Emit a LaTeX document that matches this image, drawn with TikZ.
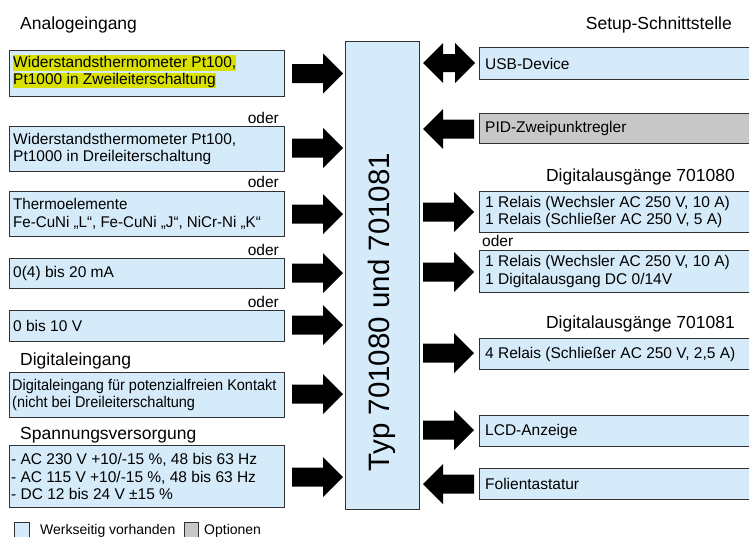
\documentclass[tikz,border=0pt]{standalone}
\usepackage{fontspec}
\usepackage{graphicx}
\setmainfont{Liberation Sans}
\definecolor{lblue}{RGB}{214,235,250}
\definecolor{lgray}{RGB}{200,200,200}
\definecolor{hl}{RGB}{217,224,0}
\definecolor{bord}{RGB}{50,50,50}
\tikzset{
  box/.style={draw=bord, line width=1.2pt, fill=lblue, rectangle, inner sep=0pt},
  optbox/.style={box, fill=lgray},
  txt/.style={font=\fontsize{15.5}{17.5}\selectfont, align=left, inner sep=0pt},
  head/.style={font=\fontsize{17.5}{20}\selectfont, inner sep=0pt},
  small/.style={font=\fontsize{14}{16}\selectfont, inner sep=0pt},
  hltxt/.style={font=\fontsize{15.5}{17.5}\selectfont, fill=hl, inner xsep=0pt, inner ysep=0.3pt, text height=11.6pt, text depth=3.6pt},
  blockarrow/.style={fill=black, draw=none},
}
% right-pointing block arrow: #1 = x start, #2 = y centre
\newcommand\rarrow[2]{\fill[blockarrow] (#1,#2-9.5) -- ++(31,0) -- ++(0,-10.5) -- ++(20,20) -- ++(-20,20) -- ++(0,-10.5) -- ++(-31,0) -- cycle;}
% left-pointing block arrow: #1 = x of tip, #2 = y centre
\newcommand\larrow[2]{\fill[blockarrow] (#1,#2) -- ++(20,-20) -- ++(0,10.5) -- ++(31,0) -- ++(0,19) -- ++(-31,0) -- ++(0,10.5) -- cycle;}
% double block arrow: #1 = x of left tip, #2 = y centre
\newcommand\darrow[2]{\fill[blockarrow] (#1,#2) -- ++(20,-20) -- ++(0,11) -- ++(12,0) -- ++(0,-11) -- ++(20,20) -- ++(-20,20) -- ++(0,-11) -- ++(-12,0) -- ++(0,11) -- cycle;}
\begin{document}
\begin{tikzpicture}[x=1pt,y=-1pt]
\useasboundingbox (0,0) rectangle (749,536);
% headings
\node[head, anchor=base west] (hana) at (20,29) {Analogeingang};
\node[head, anchor=base west] (hdig) at (20,365) {Digitaleingang};
\node[head, anchor=base west] (hspa) at (20,439) {Spannungsversorgung};
\node[head, anchor=base east] (hset) at (732,29) {Setup-Schnittstelle};
\node[head, anchor=base east] (hd80) at (735,181) {Digitalausgänge 701080};
\node[head, anchor=base east] (hd81) at (735,328) {Digitalausgänge 701081};
% central box
\node[box, anchor=north west, minimum width=74pt, minimum height=468pt] (main) at (345,41) {};
\node[rotate=90, font=\fontsize{29.5}{31}\selectfont, inner sep=0pt] (maint) at (382,312) {Typ 701080 und 701081};
% left boxes
\node[box, anchor=north west, minimum width=275pt, minimum height=46pt] (b1) at (9,50) {};
\node[hltxt, anchor=base west] (b1a) at (13,67) {Widerstandsthermometer Pt100,};
\node[hltxt, anchor=base west] (b1b) at (13,84.5) {Pt1000 in Zweileiterschaltung};
\node[txt, anchor=base east] (o1) at (279,123) {oder};
\node[box, anchor=north west, minimum width=275pt, minimum height=45pt] (b2) at (9,126) {};
\node[txt, anchor=west] (t2) at ([xshift=4pt]b2.west) {Widerstandsthermometer Pt100,\\Pt1000 in Dreileiterschaltung};
\node[txt, anchor=base east] (o2) at (279,187) {oder};
\node[box, anchor=north west, minimum width=275pt, minimum height=45pt] (b3) at (9,191) {};
\node[txt, anchor=west] (t3) at ([xshift=4pt]b3.west) {\scalebox{0.975}[1]{\vbox{\hbox{Thermoelemente}\hbox{Fe-CuNi „L“, Fe-CuNi „J“, NiCr-Ni „K“}}}};
\node[txt, anchor=base east] (o3) at (279,255) {oder};
\node[box, anchor=north west, minimum width=275pt, minimum height=30pt] (b4) at (9,258) {};
\node[txt, anchor=west] (t4) at ([xshift=4pt]b4.west) {0(4) bis 20 mA};
\node[txt, anchor=base east] (o4) at (279,307) {oder};
\node[box, anchor=north west, minimum width=275pt, minimum height=31pt] (b5) at (9,310) {};
\node[txt, anchor=west] (t5) at ([xshift=4pt]b5.west) {0 bis 10 V};
\node[box, anchor=north west, minimum width=275pt, minimum height=45pt] (b6) at (9,372) {};
\node[txt, anchor=west] (t6) at ([xshift=3pt]b6.west) {\scalebox{0.935}[1]{\vbox{\hbox{Digitaleingang für potenzialfreien Kontakt}\hbox{(nicht bei Dreileiterschaltung}}}};
\node[box, anchor=north west, minimum width=275pt, minimum height=62pt] (b7) at (9,445) {};
\node[txt, anchor=west] (t7) at ([xshift=2pt]b7.west) {- AC 230 V +10/-15 \%, 48 bis 63 Hz\\- AC 115 V +10/-15 \%, 48 bis 63 Hz\\- DC 12 bis 24 V ±15 \%};
% left arrows (into main)
\foreach \y in {73.5, 148, 214, 273, 325, 394, 477}
  {\rarrow{292}{\y}}
% right boxes
\node[box, anchor=north west, minimum width=290pt, minimum height=32pt] (r1) at (479,47) {};
\node[txt, anchor=west] (s1) at ([xshift=6pt]r1.west) {USB-Device};
\node[optbox, anchor=north west, minimum width=290pt, minimum height=30pt] (r2) at (479,113) {};
\node[txt, anchor=west] (s2) at ([xshift=6pt]r2.west) {PID-Zweipunktregler};
\node[box, anchor=north west, minimum width=290pt, minimum height=41pt] (r3) at (479,191) {};
\node[txt, anchor=west] (s3) at ([xshift=6pt]r3.west) {1 Relais (Wechsler AC 250 V, 10 A)\\1 Relais (Schließer AC 250 V, 5 A)};
\node[txt, anchor=base west] (o5) at (482,246) {oder};
\node[box, anchor=north west, minimum width=290pt, minimum height=42pt] (r4) at (479,250) {};
\node[txt, anchor=west] (s4) at ([xshift=6pt]r4.west) {1 Relais (Wechsler AC 250 V, 10 A)\\1 Digitalausgang DC 0/14V};
\node[box, anchor=north west, minimum width=290pt, minimum height=31pt] (r5) at (479,338) {};
\node[txt, anchor=west] (s5) at ([xshift=6pt]r5.west) {4 Relais (Schließer AC 250 V, 2,5 A)};
\node[box, anchor=north west, minimum width=290pt, minimum height=31pt] (r6) at (479,415) {};
\node[txt, anchor=west] (s6) at ([xshift=6pt]r6.west) {LCD-Anzeige};
\node[box, anchor=north west, minimum width=290pt, minimum height=31pt] (r7) at (479,468) {};
\node[txt, anchor=west] (s7) at ([xshift=6pt]r7.west) {Folientastatur};
% right arrows
\darrow{423}{63}
\larrow{423}{129}
\rarrow{423}{212}
\rarrow{423}{272}
\rarrow{423}{353}
\rarrow{423}{430}
\larrow{423}{484}
% legend
\node[box, line width=1pt, anchor=north west, minimum width=15pt, minimum height=15pt] (lg1) at (14,522) {};
\node[small, anchor=base west] (lt1) at (40,534) {Werkseitig vorhanden};
\node[optbox, line width=1pt, anchor=north west, minimum width=14pt, minimum height=15pt] (lg2) at (184,522) {};
\node[small, anchor=base west] (lt2) at (204,534) {Optionen};
\end{tikzpicture}
\end{document}
